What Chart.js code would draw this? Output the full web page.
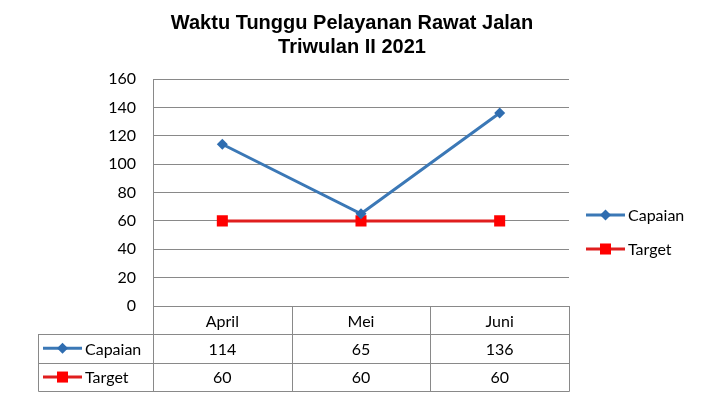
<!DOCTYPE html>
<html><head><meta charset="utf-8">
<script src="https://cdn.jsdelivr.net/npm/chart.js@4"></script>
<style>html,body{margin:0;padding:0;background:#fff}#wrap{width:709px;height:404px}</style>
</head><body><div id="wrap"><canvas id="c" width="709" height="404"></canvas></div>
<script>
const titleLines = ['Waktu Tunggu Pelayanan Rawat Jalan', 'Triwulan II 2021'];
const categories = ['April', 'Mei', 'Juni'];
const seriesNames = ['Capaian', 'Target'];
const capaian = [114, 65, 136];
const target = [60, 60, 60];
const yMin = 0, yMax = 160, yStep = 20;

const GRID = '#898989';
const BLUE_LINE = '#3b78b6';
const BLUE_PT = '#2f6db0';
const RED_LINE = '#e01e1e';
const RED_PT = '#ff0000';
const FONT = 'Lato, "Open Sans", sans-serif';

function drawSymbol(ctx, x0, x1, y, ds) {
  ctx.save();
  ctx.strokeStyle = ds.borderColor;
  ctx.lineWidth = 3;
  ctx.beginPath(); ctx.moveTo(x0, y); ctx.lineTo(x1, y); ctx.stroke();
  ctx.fillStyle = ds.pointBackgroundColor;
  ctx.beginPath();
  const cx = (x0 + x1) / 2, r = ds.pointRadius;
  if (ds.pointStyle === 'rectRot') {
    ctx.moveTo(cx - r, y); ctx.lineTo(cx, y - r); ctx.lineTo(cx + r, y); ctx.lineTo(cx, y + r); ctx.closePath();
  } else {
    const s = Math.SQRT1_2 * r;
    ctx.rect(cx - s, y - s, 2 * s, 2 * s);
  }
  ctx.fill();
  ctx.restore();
}

const tablePlugin = {
  id: 'dataTable',
  afterDraw(chart) {
    const ctx = chart.ctx, xs = chart.scales.x, ca = chart.chartArea;
    const n = categories.length;
    // title
    ctx.save();
    ctx.fillStyle = '#000';
    ctx.font = 'bold 20px "Liberation Sans", Arial, sans-serif';
    ctx.textAlign = 'center';
    ctx.textBaseline = 'middle';
    titleLines.forEach((t, i) => ctx.fillText(t, 352, 23 + i * 24));
    ctx.restore();

    const bounds = [ca.left];
    for (let i = 1; i < n; i++) bounds.push((xs.getPixelForValue(i - 1) + xs.getPixelForValue(i)) / 2);
    bounds.push(ca.right);
    const rowH = 28.7;
    const headTop = ca.bottom, headBot = xs.bottom;
    const tableLeft = 38.5;
    const rowsTop = headBot;
    const sets = chart.data.datasets;
    ctx.save();
    ctx.strokeStyle = GRID; ctx.lineWidth = 1;
    ctx.beginPath();
    bounds.forEach(b => { const x = Math.round(b) + 0.5; ctx.moveTo(x, headTop); ctx.lineTo(x, headBot); });
    for (let r = 0; r <= sets.length; r++) {
      const y = Math.round(rowsTop + r * rowH) + 0.5;
      ctx.moveTo(tableLeft, y); ctx.lineTo(Math.round(ca.right) + 0.5, y);
    }
    const rowsBot = Math.round(rowsTop + sets.length * rowH) + 0.5;
    [tableLeft].concat(bounds.map(b => Math.round(b) + 0.5)).forEach(x => { ctx.moveTo(x, rowsTop); ctx.lineTo(x, rowsBot); });
    ctx.stroke();
    ctx.fillStyle = '#000';
    ctx.font = '16px ' + FONT;
    ctx.textBaseline = 'middle';
    sets.forEach((ds, r) => {
      const yc = rowsTop + r * rowH + rowH / 2;
      drawSymbol(ctx, 43, 82, yc, ds);
      ctx.fillStyle = '#000';
      ctx.textAlign = 'left';
      ctx.fillText(ds.label, 85, yc + 1);
      ctx.textAlign = 'center';
      ds.data.forEach((v, i) => ctx.fillText(String(v), xs.getPixelForValue(i), yc + 1));
    });
    const legY = [215, 249];
    sets.forEach((ds, r) => {
      drawSymbol(ctx, 586, 625, legY[r], ds);
      ctx.fillStyle = '#000';
      ctx.textAlign = 'left';
      ctx.fillText(ds.label, 628, legY[r] + 1);
    });
    ctx.restore();
  }
};

new Chart(document.getElementById('c'), {
  type: 'line',
  data: {
    labels: categories,
    datasets: [
      {label: seriesNames[0], data: capaian, borderColor: BLUE_LINE, backgroundColor: BLUE_PT,
       pointBackgroundColor: BLUE_PT, pointBorderColor: BLUE_PT, pointBorderWidth: 0,
       borderWidth: 3, pointStyle: 'rectRot', pointRadius: 5.5, tension: 0},
      {label: seriesNames[1], data: target, borderColor: RED_LINE, backgroundColor: RED_PT,
       pointBackgroundColor: RED_PT, pointBorderColor: RED_PT, pointBorderWidth: 0,
       borderWidth: 3, pointStyle: 'rect', pointRadius: 7.8, tension: 0}
    ]
  },
  options: {
    responsive: false,
    animation: false,
    devicePixelRatio: 1,
    layout: {padding: {left: 0, right: 140, top: 79, bottom: 70}},
    plugins: {
      legend: {display: false},
      tooltip: {enabled: false},
      title: {display: false}
    },
    scales: {
      x: {
        offset: true,
        grid: {display: false},
        border: {display: false},
        ticks: {color: '#000', font: {family: FONT, size: 16}, padding: -2},
        afterFit(s) { s.height = 28; }
      },
      y: {
        min: yMin, max: yMax,
        grid: {color: GRID, drawTicks: false, lineWidth: 1},
        border: {display: true, color: GRID},
        ticks: {stepSize: yStep, color: '#000', font: {family: FONT, size: 16}, padding: 17},
        afterFit(s) { s.width = 153; }
      }
    }
  },
  plugins: [tablePlugin]
});
</script></body></html>
